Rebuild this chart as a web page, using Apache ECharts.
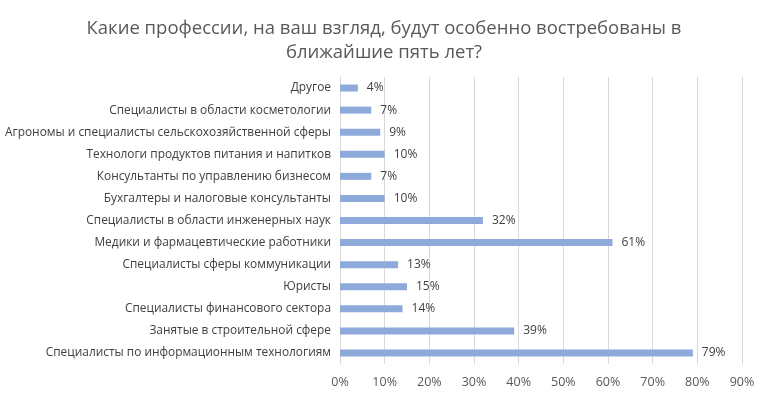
<!DOCTYPE html>
<html>
<head>
<meta charset="utf-8">
<script src="https://cdn.jsdelivr.net/npm/echarts@6/dist/echarts.min.js"></script>
<style>
    html, body { margin: 0; padding: 0; background: #fff; }
    #chart { width: 768px; height: 399px; }
</style>
</head>
<body>
<div id="chart"></div>
<script>
// категории снизу вверх (ось категорий в ECharts идёт снизу)
const categories = [
    'Специалисты по информационным технологиям',
    'Занятые в строительной сфере',
    'Специалисты финансового сектора',
    'Юристы',
    'Специалисты сферы коммуникации',
    'Медики и фармацевтические работники',
    'Специалисты в области инженерных наук',
    'Бухгалтеры и налоговые консультанты',
    'Консультанты по управлению бизнесом',
    'Технологи продуктов питания и напитков',
    'Агрономы и специалисты сельскохозяйственной сферы',
    'Специалисты в области косметологии',
    'Другое'
];
const values = [79, 39, 14, 15, 13, 61, 32, 10, 7, 10, 9, 7, 4];
const axisMax = 90;
const axisStep = 10;

const titleText = 'Какие профессии, на ваш взгляд, будут особенно востребованы в\nближайшие пять лет?';
const fontFamily = '"Open Sans", "Liberation Sans", sans-serif';

const chart = echarts.init(document.getElementById('chart'));
const options = {
    animation: false,
    title: {
        text: titleText,
        left: 'center',
        top: 12,
        textStyle: {
            fontFamily: fontFamily,
            fontSize: 18.5,
            fontWeight: 'normal',
            color: '#595959',
            lineHeight: 24
        }
    },
    grid: {
        left: 340,
        right: 26,
        top: 77,
        bottom: 35,
        containLabel: false
    },
    xAxis: {
        type: 'value',
        min: 0,
        max: axisMax,
        interval: axisStep,
        axisLine: { show: false },
        axisTick: { show: false },
        axisLabel: {
            formatter: '{value}%',
            margin: 12,
            fontFamily: fontFamily,
            fontSize: 12.5,
            color: '#595959'
        },
        splitLine: {
            lineStyle: { color: '#d9d9d9', width: 1 }
        }
    },
    yAxis: {
        type: 'category',
        data: categories,
        axisLine: { show: true, lineStyle: { color: '#d9d9d9' } },
        axisTick: { show: false },
        axisLabel: {
            margin: 9,
            fontFamily: fontFamily,
            fontSize: 11.9,
            color: '#404040'
        }
    },
    series: [{
        type: 'bar',
        data: values,
        barWidth: 7,
        itemStyle: { color: '#8eaadb' },
        label: {
            show: true,
            position: 'right',
            distance: 9,
            formatter: '{c}%',
            fontFamily: fontFamily,
            fontSize: 12,
            color: '#404040'
        }
    }]
};
chart.setOption(options);
</script>
</body>
</html>
